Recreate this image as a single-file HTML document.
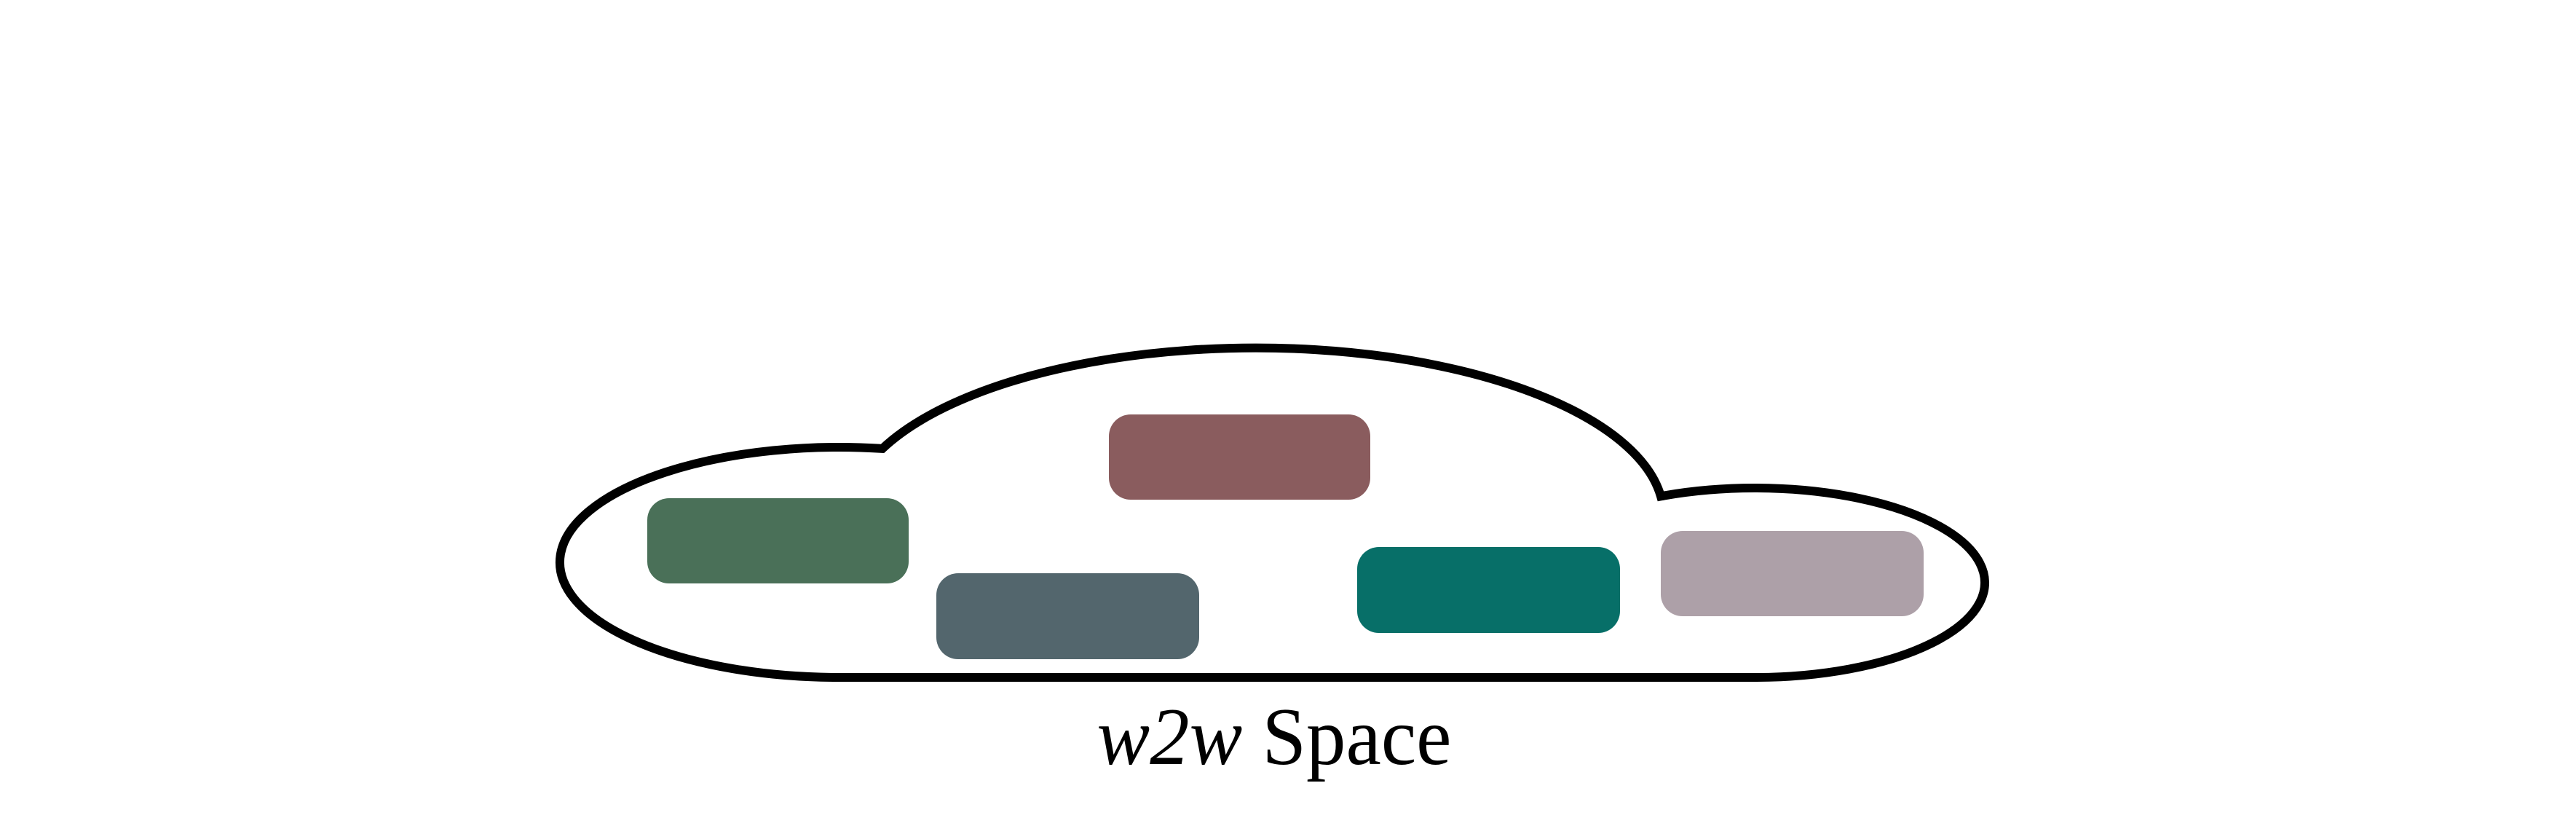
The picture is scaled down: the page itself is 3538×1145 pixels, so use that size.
<!DOCTYPE html>
<html><head><meta charset="utf-8"><style>html,body{margin:0;padding:0;background:#fff}svg{display:block}</style></head>
<body>
<svg width="3538" height="1145" viewBox="0 0 3538 1145">
<path d="M 1153 930 A 384 158 0 1 1 1212 615.88 A 560 231 0 0 1 2281 681.33 A 316 130 0 1 1 2410 930 Z" fill="none" stroke="#000" stroke-width="12"/>
<rect x="889" y="684" width="359" height="117" rx="30" fill="#4a7058"/>
<rect x="1523" y="569" width="359" height="117" rx="30" fill="#8a5c5e"/>
<rect x="1286" y="787" width="361" height="118" rx="30" fill="#53666d"/>
<rect x="1864" y="751" width="361" height="118" rx="30" fill="#076f68"/>
<rect x="2281" y="729" width="361" height="117" rx="30" fill="#ada0a8"/>
<text x="1750" y="1049" text-anchor="middle" font-family="Liberation Serif, serif" font-size="112" textLength="487" lengthAdjust="spacingAndGlyphs"><tspan font-style="italic">w2w</tspan> Space</text>
</svg>
</body></html>
